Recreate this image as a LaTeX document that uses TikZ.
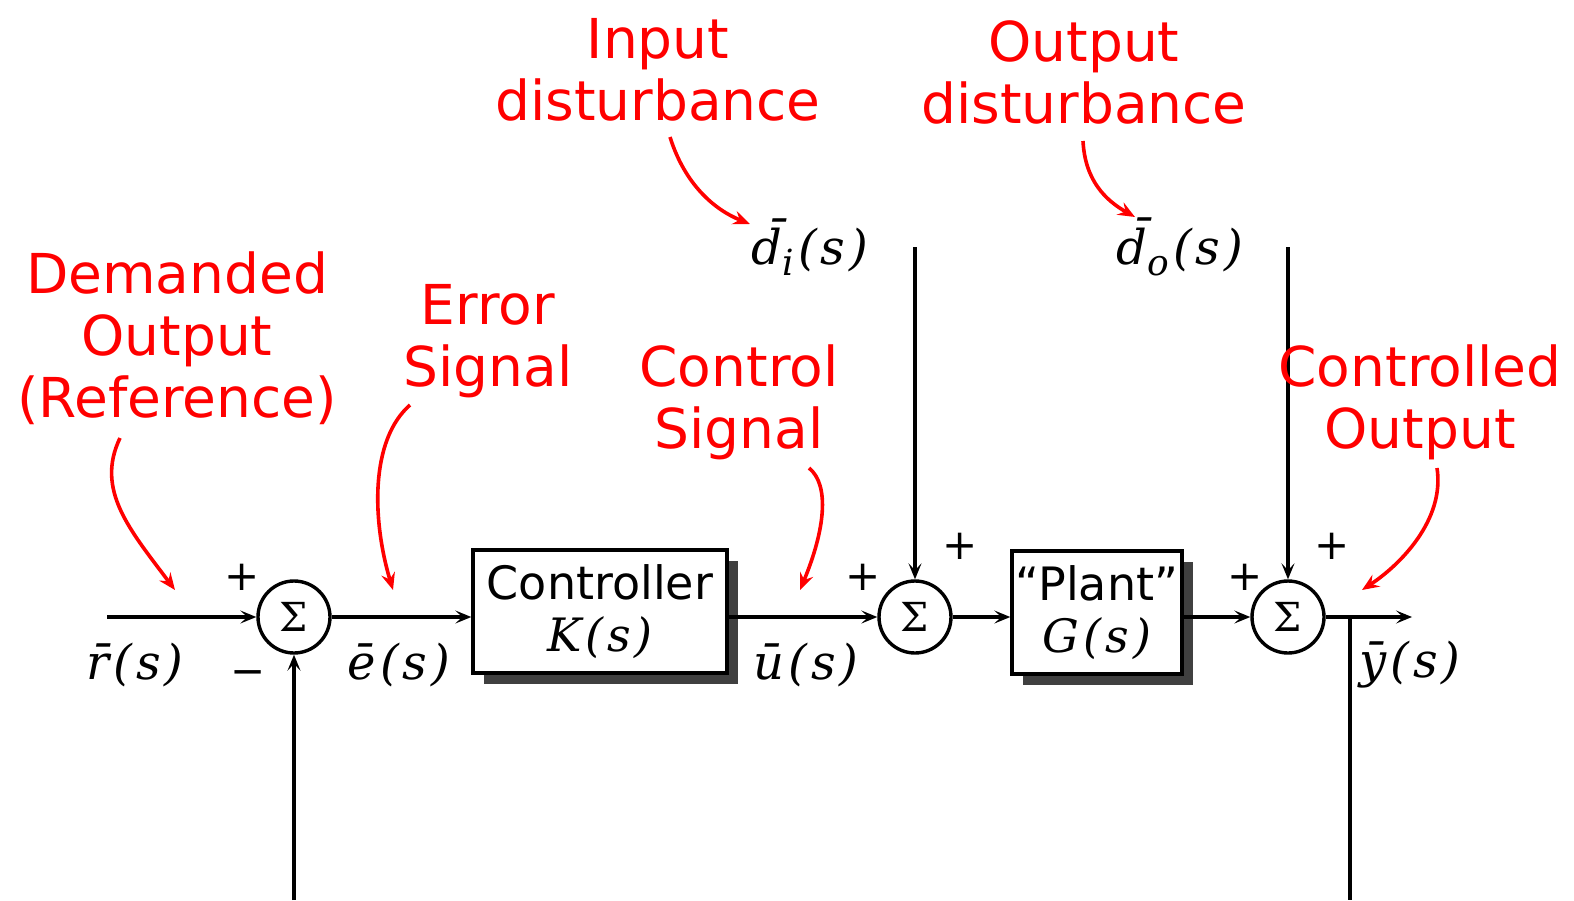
\documentclass[tikz,border=0pt]{standalone}
\usepackage{fontspec}
\newfontfamily\lblfont{DejaVu Sans}
\newfontfamily\mfont{DejaVu Serif}
\usetikzlibrary{arrows.meta,shadows}
\definecolor{shadowc}{RGB}{64,64,64}
\definecolor{annred}{RGB}{255,0,0}
\newcommand{\mysub}[1]{\raisebox{-11pt}{\fontsize{36}{36}\selectfont #1}}
\newcommand{\gp}{\hspace{4pt}}
\begin{document}
\begin{tikzpicture}[x=1pt,y=-1pt,
  sum/.style={circle,draw,line width=3.4pt,minimum size=72pt,inner sep=0pt,font=\mfont\fontsize{40}{42}\selectfont},
  blk/.style={draw,line width=3.4pt,fill=white,align=center,inner sep=0pt,
     font=\lblfont\fontsize{46}{52}\selectfont,
     drop shadow={shadow xshift=11pt,shadow yshift=-11pt,opacity=1,fill=shadowc}},
  sig/.style={line width=3.4pt,-{Stealth[length=16pt,width=13pt,inset=7pt]}},
  wire/.style={line width=3.4pt},
  mlabel/.style={font=\mfont\itshape\fontsize{48}{56}\selectfont,inner sep=1pt},
  pm/.style={font=\lblfont\fontsize{42}{44}\selectfont,inner sep=0pt},
  ann/.style={text=annred,align=center,font=\lblfont\fontsize{55}{62}\selectfont},
  annarrow/.style={draw=annred,line width=3.6pt,-{Stealth[length=17pt,width=14pt,inset=6pt]}}]
\useasboundingbox (0,0) rectangle (1574,900);

% blocks and summing junctions
\node[sum] (s1) at (294,617) {Σ};
\node[sum] (s2) at (915,617) {Σ};
\node[sum] (s3) at (1288,617) {Σ};
\node[blk,minimum width=254pt,minimum height=123pt] (ctrl) at (600,611.5) {Controller\\{\mfont\itshape K\gp(\gp s\gp)}};
\node[blk,minimum width=170pt,minimum height=123pt] (plant) at (1097,612.5) {“Plant”\\{\mfont\itshape G\gp(\gp s\gp)}};

% free ends
\coordinate (rin) at (107,617);
\coordinate (yout) at (1412,617);
\coordinate (fbtop) at (1350,617);
\coordinate (fbbot) at (1350,900);
\coordinate (s1bot) at (294,900);
\coordinate (ditop) at (915,247);
\coordinate (dotop) at (1288,247);

% signal connectors
\draw[sig] (rin) -- (s1);
\draw[sig] (s1) -- (ctrl.west |- s1);
\draw[sig] (ctrl.east |- s2) -- (s2);
\draw[sig] (s2) -- (plant.west |- s2);
\draw[sig] (plant.east |- s3) -- (s3);
\draw[sig] (s3) -- (yout);
\draw[wire] (fbtop) -- (fbbot);
\draw[sig] (s1bot) -- (s1);
\draw[sig] (ditop) -- (s2);
\draw[sig] (dotop) -- (s3);

% signal labels
\node[mlabel] (lr) at (135,665) {\=r\gp(\gp s\gp)};
\node[mlabel] (le) at (399,665) {\=e\gp(\gp s\gp)};
\node[mlabel] (lu) at (806,665) {\=u\gp(\gp s\gp)};
\node[mlabel] (ly) at (1410,665) {\=y\gp(\gp s\gp)};
\node[mlabel] (ldi) at (810,247) {\=d\mysub{i}\gp(\gp s\gp)};
\node[mlabel] (ldo) at (1180,247) {\=d\mysub{o}\gp(\gp s\gp)};

% signs
\node[pm] (p1) at (242,577) {+};
\node[pm] (m1) at (248,678) {−};
\node[pm] (p2) at (863,577) {+};
\node[pm] (p3) at (960,546) {+};
\node[pm] (p4) at (1245,577) {+};
\node[pm] (p5) at (1332,546) {+};

% annotations
\node[ann] (tdem) at (177,338) {Demanded\\Output\\(Reference)};
\node[ann] (terr) at (488,341) {Error\\Signal};
\node[ann] (tctl) at (739,402) {Control\\Signal};
\node[ann] (tin) at (658,70) {Input\\disturbance};
\node[ann] (tout) at (1084,72) {Output\\disturbance};
\node[ann] (tcy) at (1420,402) {Controlled\\Output};

\coordinate (a1s) at (120,438);  \coordinate (a1e) at (175,590);
\coordinate (a2s) at (410,405);  \coordinate (a2e) at (393,590);
\coordinate (a3s) at (809,468);  \coordinate (a3e) at (800,590);
\coordinate (a4s) at (670,137);  \coordinate (a4e) at (750,224);
\coordinate (a5s) at (1083,141); \coordinate (a5e) at (1135,217);
\coordinate (a6s) at (1437,468); \coordinate (a6e) at (1362,590);

\draw[annarrow] (a1s) .. controls (95,490) and (130,530) .. (a1e);
\draw[annarrow] (a2s) .. controls (370,440) and (372,520) .. (a2e);
\draw[annarrow] (a3s) .. controls (830,485) and (825,530) .. (a3e);
\draw[annarrow] (a4s) .. controls (685,185) and (715,210) .. (a4e);
\draw[annarrow] (a5s) .. controls (1085,180) and (1105,200) .. (a5e);
\draw[annarrow] (a6s) .. controls (1445,520) and (1400,565) .. (a6e);
\end{tikzpicture}
\end{document}
